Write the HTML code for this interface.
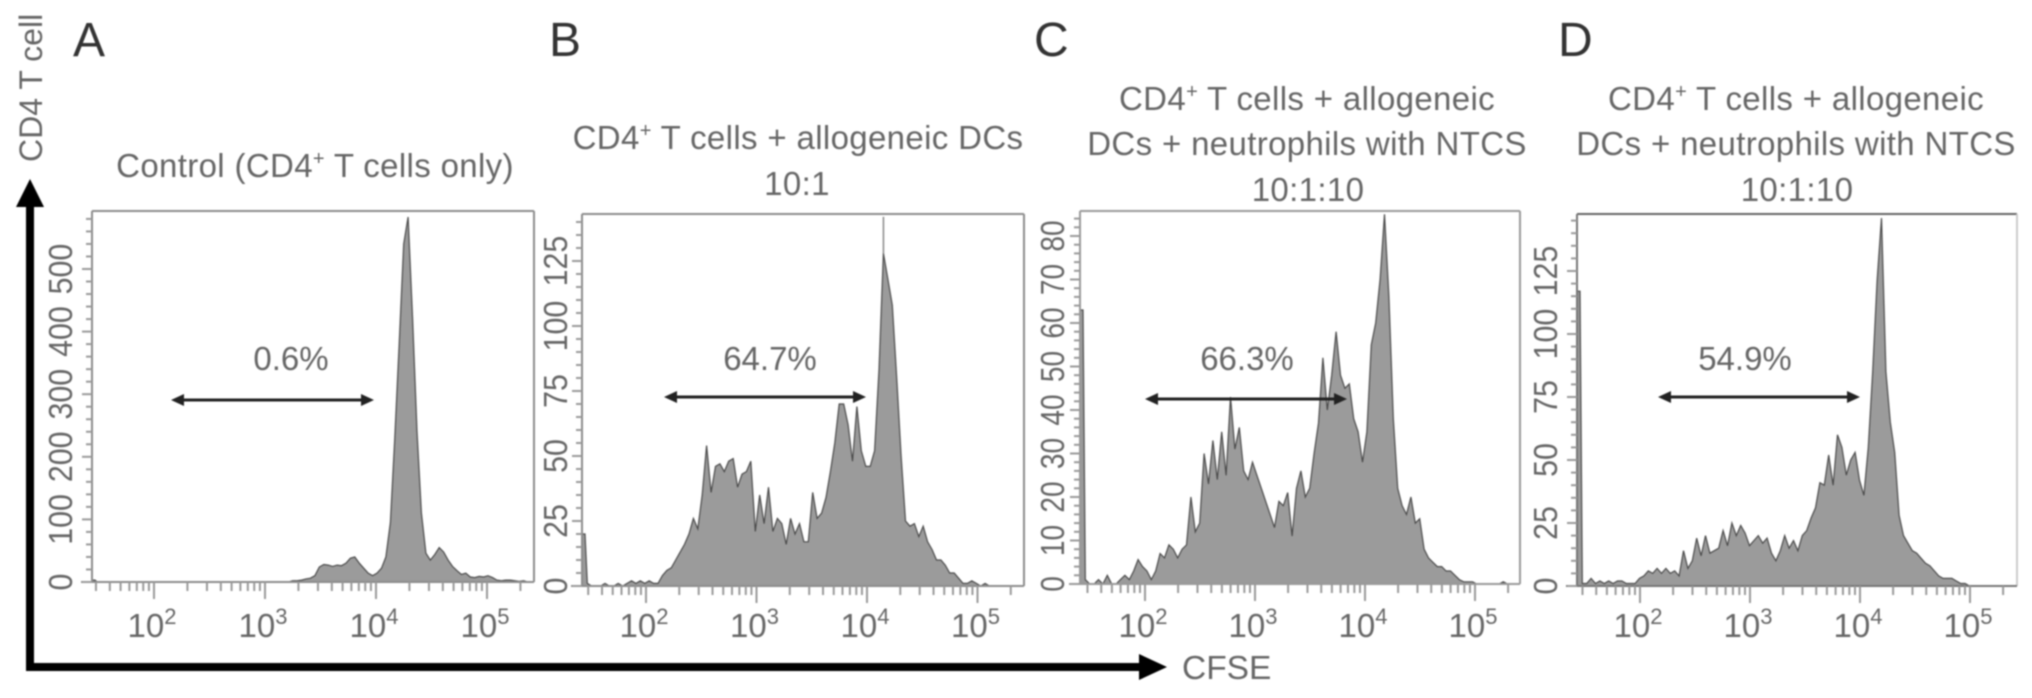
<!DOCTYPE html>
<html lang="en">
<head>
<meta charset="utf-8">
<title>CFSE proliferation histograms</title>
<style>
  html, body { margin: 0; padding: 0; background: #fff; }
  svg { display: block; filter: blur(0.7px); }
  text { font-family: "Liberation Sans", sans-serif; fill: #666; }
  .title { font-size: 33px; letter-spacing: 0.35px; text-anchor: middle; }
  .pct { font-size: 33px; text-anchor: middle; }
  .letter { font-size: 48px; fill: #333; }
  .sup { font-size: 20px; }
</style>
</head>
<body>
<svg id="figure" xmlns="http://www.w3.org/2000/svg" width="2032" height="698" viewBox="0 0 2032 698">
  <rect width="2032" height="698" fill="#fff"/>

  <text class="letter" x="73" y="56">A</text>
  <text class="letter" x="549" y="56">B</text>
  <text class="letter" x="1034" y="56">C</text>
  <text class="letter" x="1558" y="56">D</text>

  <text class="title" x="315" y="177">Control (CD4<tspan class="sup" dy="-12">+</tspan><tspan dy="12"> T cells only)</tspan></text>

  <text class="title" x="798" y="149">CD4<tspan class="sup" dy="-12">+</tspan><tspan dy="12"> T cells + allogeneic DCs</tspan></text>
  <text class="title" x="797" y="195">10:1</text>

  <text class="title" x="1307" y="110">CD4<tspan class="sup" dy="-12">+</tspan><tspan dy="12"> T cells + allogeneic</tspan></text>
  <text class="title" x="1307" y="155">DCs + neutrophils with NTCS</text>
  <text class="title" x="1308" y="201">10:1:10</text>

  <text class="title" x="1796" y="110">CD4<tspan class="sup" dy="-12">+</tspan><tspan dy="12"> T cells + allogeneic</tspan></text>
  <text class="title" x="1796" y="155">DCs + neutrophils with NTCS</text>
  <text class="title" x="1797" y="201">10:1:10</text>

  <g id="panels"></g>

  <text class="pct" x="291" y="370">0.6%</text>
  <text class="pct" x="770" y="370">64.7%</text>
  <text class="pct" x="1247" y="370">66.3%</text>
  <text class="pct" x="1745" y="370">54.9%</text>

  <g fill="#222" stroke="none">
    <g>
      <rect x="178" y="398.5" width="189" height="3"/>
      <path d="M171 400 L184 394 L184 406 Z M374 400 L361 394 L361 406 Z"/>
    </g>
    <g>
      <rect x="671" y="395.5" width="188" height="3"/>
      <path d="M664 397 L677 391 L677 403 Z M866 397 L853 391 L853 403 Z"/>
    </g>
    <g>
      <rect x="1152" y="397.5" width="188" height="3"/>
      <path d="M1145 399 L1158 393 L1158 405 Z M1347 399 L1334 393 L1334 405 Z"/>
    </g>
    <g>
      <rect x="1665" y="395.5" width="188" height="3"/>
      <path d="M1658 397 L1671 391 L1671 403 Z M1860 397 L1847 391 L1847 403 Z"/>
    </g>
  </g>

  <g fill="#000">
    <g>
      <rect x="26" y="200" width="8" height="471"/>
      <path d="M30 179 L44 207 L16 207 Z"/>
    </g>
    <g>
      <rect x="26" y="663" width="1118" height="8"/>
      <path d="M1167 667 L1139 654 L1139 680 Z"/>
    </g>
  </g>
  <text x="1182" y="679" font-size="33.5">CFSE</text>
  <text transform="translate(42 162) rotate(-90)" font-size="32">CD4 T cell</text>
</svg>

<script>
// Histogram counts per log-spaced bin.
const countsA = [3,0,0,0,0,0,0,0,0,0,0,0,0,0,0,0,0,0,0,0,0,0,0,0,0,0,0,0,0,0,0,0,0,0,0,0,0,0,0,0,0,0,0,0,0,2,2,3,5,6,10,24,28,27,25,27,26,30,38,40,30,22,14,10,14,22,40,95,230,380,540,583,420,240,110,46,35,44,55,48,35,25,18,12,14,8,7,9,8,10,7,3,2,3,3,2,1,2,0,0];
const countsB = [20,1,0,0,0,1,0,0,1,0,1,2,1,2,1,2,1,1,4,6,7,10,13,16,20,26,22,35,54,36,46,47,44,48,49,38,43,44,48,21,35,24,38,21,26,24,16,26,20,24,17,17,36,26,28,34,44,55,70,70,62,48,69,52,46,46,52,83,128,118,108,80,50,25,23,24,19,23,17,14,10,10,8,5,5,3,1,1,2,1,0,1,0,0,0,0,0,0,0,0];
const countsC = [63,1,0,0,1,0,2,0,0,1,2,1,3,5.6,4,3,1,3,7,6,9,8,6,8,9,20,12,14,30,23,33,24,35,25,43,31,36,26,24,28,25,22,19,16,13,19,18,21,11,22,26,20,22,30,37,52,40,48,58,48,45,46,38,35,28,35,55,60,70,85,66,38,22,18,16,20,14,15,8,6,5,4,4,3,3,2,1,0.5,0.5,0.5,0,0,0,0,0,0,0.5,0,0,0];
const countsD = [117,1,1,3,1,2,1,2,1,2,2,1,1,1,3,4,6,5,7,5,7,5,6,4,14,7,10,19,12,20,13,14,15,22,16,25,20,24,21,16,18,20,17,19,13,10,14,20,15,18,14,20,22,27,31,41,40,52,40,60,55,44,50,53,42,36,55,85,121,146,85,65,53,28,20,17,14,13,11,9,8,6,4,3,3,3,2,1,1,0,0,0,0,0,0,0,0,0,0,0];

// Axis tick values and labels.
const yTicksA = [0,100,200,300,400,500];
const yTicksB = [0,25,50,75,100,125];
const yTicksC = [0,10,20,30,40,50,60,70,80];
const yTicksD = [0,25,50,75,100,125];
const xDecades = [2,3,4,5];
const xMinorMultipliers = [2,3,4,5,6,7,8,9];
const spikeB = [142];

const logBinWidth = 0.04;
const svgNS = 'http://www.w3.org/2000/svg';
const root = document.getElementById('panels');

const panels = [
  { id:'a', counts:countsA, yTicks:yTicksA, minorDiv:5, left:92,  right:534,  top:211, bottom:582, x100:154,  decade:111,   perCount:0.626, labelX:72,   labelSqueeze:0.92, frame:'#8c8c8c', topFrame:'#8c8c8c', rightFrame:'#8c8c8c' },
  { id:'b', counts:countsB, yTicks:yTicksB, minorDiv:5, left:582, right:1024, top:214, bottom:586, x100:646,  decade:110.5, perCount:2.6,   labelX:567,  labelSqueeze:0.92, frame:'#8c8c8c', topFrame:'#8c8c8c', rightFrame:'#8c8c8c' },
  { id:'c', counts:countsC, yTicks:yTicksC, minorDiv:5, left:1080,right:1520, top:211, bottom:584, x100:1145, decade:110,   perCount:4.35,  labelX:1064, labelSqueeze:0.85, frame:'#999',    topFrame:'#999',    rightFrame:'#999' },
  { id:'d', counts:countsD, yTicks:yTicksD, minorDiv:5, left:1577,right:2017, top:214, bottom:586, x100:1640, decade:110,   perCount:2.52,  labelX:1557, labelSqueeze:0.92, frame:'#777',    topFrame:'#666',    rightFrame:'#ccc' }
];

function make(tag, attrs, parent) {
  const el = document.createElementNS(svgNS, tag);
  for (const k in attrs) el.setAttribute(k, attrs[k]);
  parent.appendChild(el);
  return el;
}

panels.forEach(function (p) {
  const xScale = function (logValue) { return p.x100 + (logValue - 2) * p.decade; };
  const yScale = function (count) { return p.bottom - count * p.perCount; };
  const logStart = 2 - (p.x100 - p.left) / p.decade;

  const g = make('g', {}, root);
  
  

  // Histogram area and outline: first bin is a narrow spike, the rest connect bin positions
  let outline = 'M' + p.left + ' ' + p.bottom;
  let lastX = p.left;
  p.counts.forEach(function (c, i) {
    const x = i === 0 ? xScale(logStart) : xScale(logStart + (i + 0.2) * logBinWidth);
    outline += ' L' + x.toFixed(1) + ' ' + yScale(c).toFixed(1);
    if (i === 0) outline += ' L' + (x + 3).toFixed(1) + ' ' + yScale(c).toFixed(1);
    lastX = x;
  });
  const area = make('path', { d: outline + ' L' + lastX.toFixed(1) + ' ' + p.bottom + ' Z', fill: '#9b9b9b', stroke: 'none' }, g);
  
  
  const line = make('path', { d: outline, fill: 'none', stroke: '#4a4a4a', 'stroke-width': 1.2 }, g);
  
  

  if (p.id === 'b') {
    const sx = xScale(logStart + 68.2 * logBinWidth);
    const spike = make('line', { x1: sx, x2: sx, y1: yScale(128), y2: yScale(spikeB[0]), stroke: '#888', 'stroke-width': 1.5 }, g);
    
    
  }

  // Frame
  const frame = make('g', { fill: 'none', 'stroke-width': 2 }, g);
  
  
  make('line', { x1: p.left, x2: p.right, y1: p.top, y2: p.top, stroke: p.topFrame }, frame);
  make('line', { x1: p.right, x2: p.right, y1: p.top, y2: p.bottom, stroke: p.rightFrame }, frame);
  make('line', { x1: p.left, x2: p.left, y1: p.top, y2: p.bottom, stroke: p.frame }, frame);
  make('line', { x1: p.left - 11, x2: p.right, y1: p.bottom, y2: p.bottom, stroke: p.frame }, frame);

  // Y ticks
  const yAxis = make('g', { stroke: '#999', 'stroke-width': 2 }, g);
  
  
  const step = p.yTicks[1] - p.yTicks[0];
  const minorStep = step / p.minorDiv;
  for (let v = 0; yScale(v) >= p.top; v += minorStep) {
    const isMajor = Math.abs(v / step - Math.round(v / step)) < 1e-6;
    make('line', { x1: p.left - (isMajor ? 10 : 6), x2: p.left, y1: yScale(v), y2: yScale(v) }, yAxis);
  }
  p.yTicks.forEach(function (v) {
    const t = make('text', { transform: 'translate(' + p.labelX + ' ' + yScale(v) + ') rotate(-90) scale(' + p.labelSqueeze + ' 1)', 'text-anchor': 'middle', 'font-size': 33, stroke: 'none' }, yAxis);
    
    
    t.textContent = String(v);
  });

  // X ticks
  const xAxis = make('g', { stroke: '#999', 'stroke-width': 2 }, g);
  
  
  const logEnd = logStart + (p.right - p.left) / p.decade;
  [1].concat(xDecades).forEach(function (d) {
    xMinorMultipliers.forEach(function (m) {
      const lv = d + Math.log10(m);
      if (lv > logStart && lv < logEnd) {
        make('line', { x1: xScale(lv), x2: xScale(lv), y1: p.bottom, y2: p.bottom + 9 }, xAxis);
      }
    });
  });
  xDecades.forEach(function (d) {
    make('line', { x1: xScale(d), x2: xScale(d), y1: p.bottom, y2: p.bottom + 17 }, xAxis);
    const t = make('text', { x: xScale(d) - 2, y: 637, 'text-anchor': 'middle', 'font-size': 33, stroke: 'none' }, xAxis);
    
    
    t.appendChild(document.createTextNode('10'));
    const s = make('tspan', { 'font-size': 22, dy: -13 }, t);
    s.textContent = String(d);
  });
});
</script>
</body>
</html>
